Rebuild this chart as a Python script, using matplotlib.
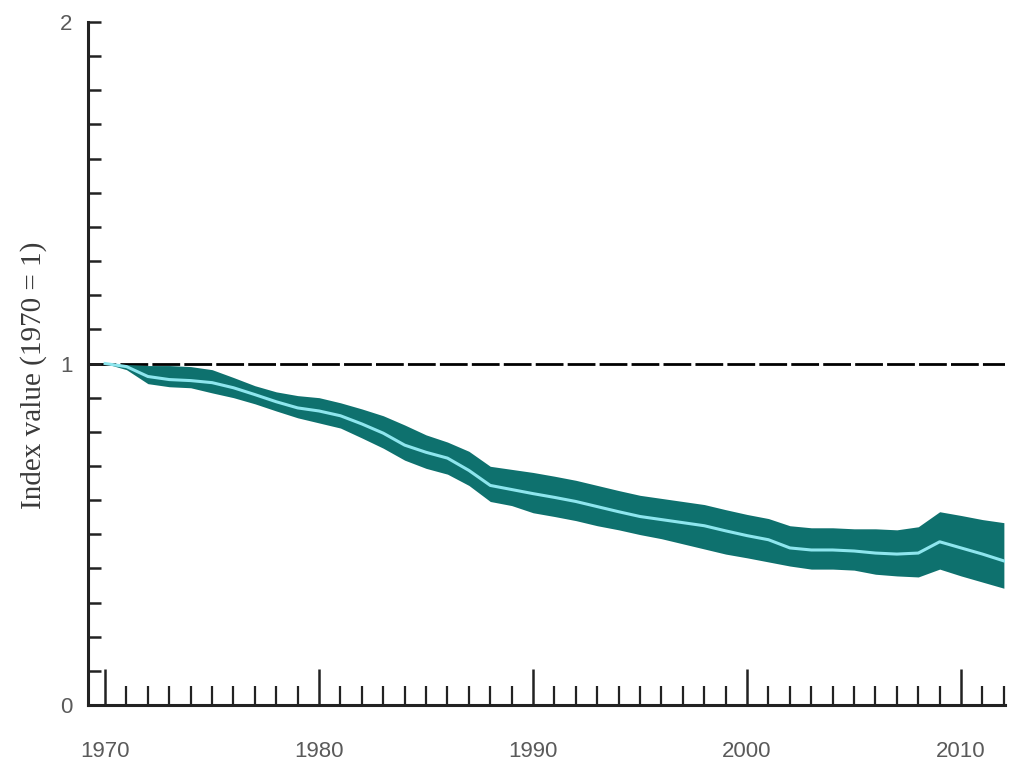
import numpy as np
import matplotlib
matplotlib.use("Agg")
import matplotlib.pyplot as plt
from matplotlib.ticker import MultipleLocator, FixedLocator

# data (index, 1970 = 1)
years = list(range(1970, 2013))
center = [1.000, 0.991, 0.962, 0.953, 0.950, 0.944, 0.929, 0.909, 0.888, 0.870,
          0.861, 0.847, 0.823, 0.796, 0.761, 0.740, 0.723, 0.687, 0.643, 0.631,
          0.619, 0.608, 0.596, 0.581, 0.566, 0.552, 0.543, 0.534, 0.525, 0.510,
          0.496, 0.484, 0.460, 0.454, 0.454, 0.451, 0.445, 0.442, 0.445, 0.478,
          0.460, 0.442, 0.422]
upper = [1.000, 0.997, 0.994, 0.994, 0.991, 0.982, 0.959, 0.935, 0.917, 0.906,
         0.900, 0.885, 0.867, 0.847, 0.820, 0.791, 0.770, 0.743, 0.699, 0.690,
         0.681, 0.670, 0.658, 0.643, 0.628, 0.614, 0.605, 0.596, 0.587, 0.572,
         0.558, 0.546, 0.525, 0.519, 0.519, 0.516, 0.516, 0.513, 0.522, 0.566,
         0.555, 0.543, 0.534]
lower = [1.000, 0.982, 0.941, 0.932, 0.929, 0.914, 0.900, 0.882, 0.861, 0.841,
         0.826, 0.811, 0.782, 0.752, 0.717, 0.693, 0.676, 0.643, 0.596, 0.584,
         0.563, 0.552, 0.540, 0.525, 0.513, 0.499, 0.487, 0.472, 0.457, 0.442,
         0.431, 0.419, 0.407, 0.398, 0.398, 0.395, 0.383, 0.378, 0.375, 0.398,
         0.378, 0.360, 0.342]

x_labels = ["1970", "1980", "1990", "2000", "2010"]
y_labels = ["0", "1", "2"]

narrow = ["Liberation Sans Narrow", "Liberation Sans", "DejaVu Sans"]
grey = "#5a5a5a"

fig = plt.figure(figsize=(10.1, 7.67), dpi=100)
ax = fig.add_axes([0.0871, 0.0808, 0.9079, 0.8905])

# reference line at 1
ax.axhline(1.0, color="black", lw=2.0, linestyle=(0, (10, 1.5)), zorder=1)

# uncertainty band + central trend
ax.fill_between(years, lower, upper, color="#0e716e", lw=0, zorder=2)
ax.plot(years, center, color="#8ee6ee", lw=2.2, zorder=3)

ax.set_xlim(1969.2, 2012.05)
ax.set_ylim(0, 2)

for side in ["top", "right"]:
    ax.spines[side].set_visible(False)
for side in ["left", "bottom"]:
    ax.spines[side].set_linewidth(2.2)
    ax.spines[side].set_color("#222222")

# x ticks: decades long, years short, pointing up
ax.xaxis.set_major_locator(FixedLocator([int(l) for l in x_labels]))
ax.set_xticklabels(x_labels)
ax.xaxis.set_minor_locator(MultipleLocator(1))
ax.tick_params(axis="x", which="major", direction="in", length=26, width=1.8,
               color="#222222", pad=26, labelsize=16, labelcolor=grey)
ax.tick_params(axis="x", which="minor", direction="in", length=14, width=1.6,
               color="#222222")

# y ticks: labels at 0, 1, 2 and short ticks every 0.1
ax.yaxis.set_major_locator(FixedLocator([float(l) for l in y_labels]))
ax.set_yticklabels(y_labels)
ax.yaxis.set_minor_locator(MultipleLocator(0.1))
ax.tick_params(axis="y", which="both", direction="in", length=9, width=1.8,
               color="#222222")
ax.tick_params(axis="y", which="major", pad=11, labelsize=16, labelcolor=grey)

for lab in ax.get_xticklabels() + ax.get_yticklabels():
    lab.set_family(narrow)

ax.set_ylabel("Index value (1970 = 1)", family=["Liberation Serif", "DejaVu Serif"],
              fontsize=21, color="#3a3a3a")
ax.yaxis.set_label_coords(-0.045, 0.483)

fig.savefig("out.png", dpi=100)
